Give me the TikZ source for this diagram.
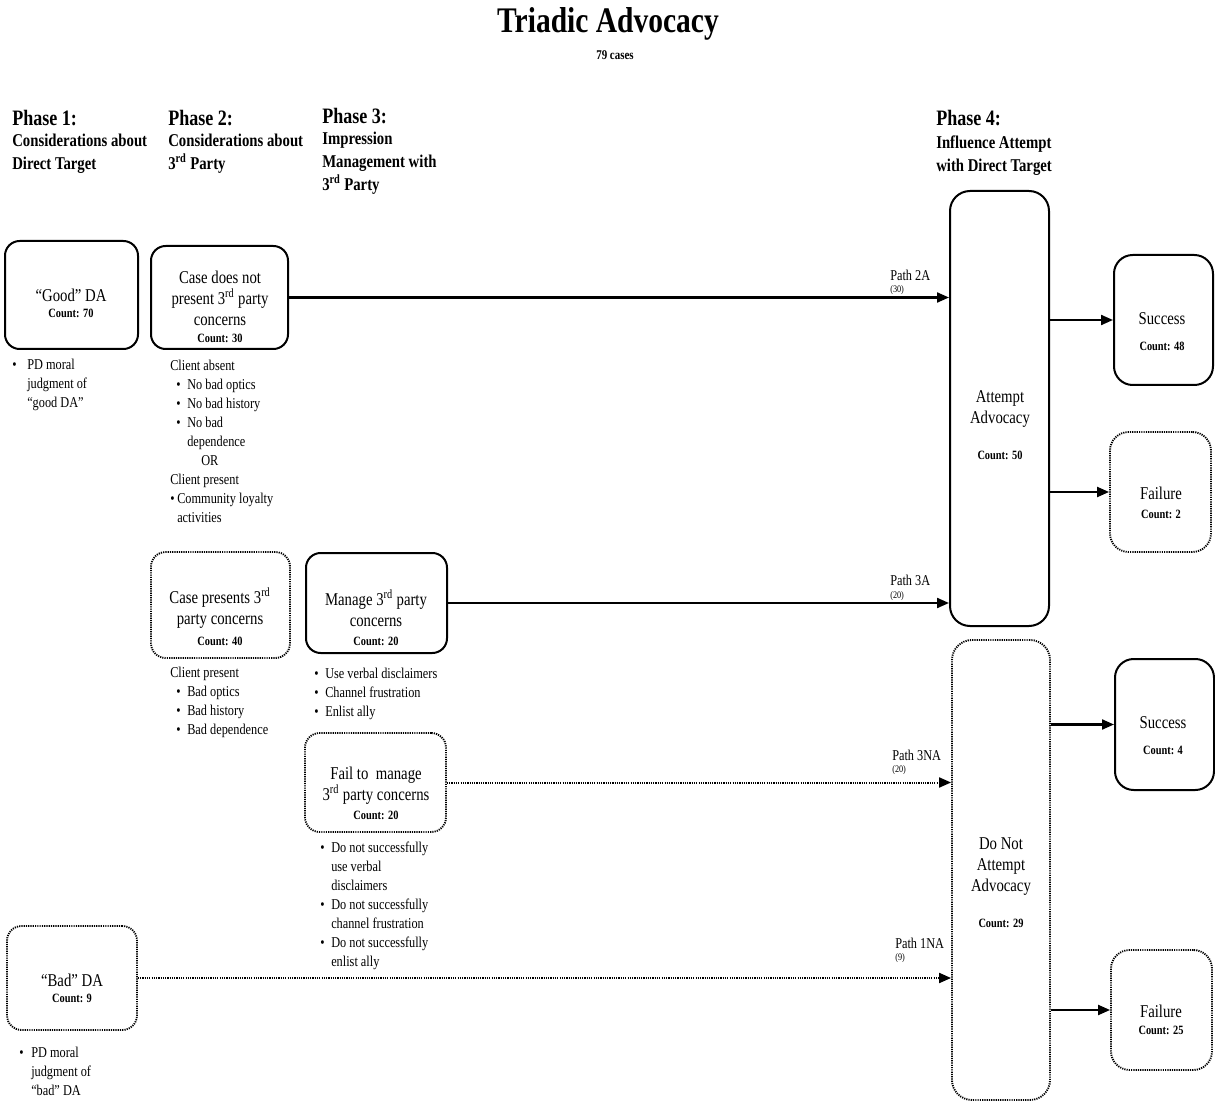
\documentclass[tikz,border=0pt]{standalone}
\usepackage{fontspec}
\setmainfont[FakeStretch=0.82]{Liberation Serif}
\usetikzlibrary{arrows.meta}
\newcommand\mybul[1]{\makebox[#1][l]{•}}
\begin{document}
\begin{tikzpicture}[x=0.75pt,y=-0.75pt,
 solidbox/.style={draw, line width=1.5pt, rounded corners=11pt, inner sep=0pt},
 dotbox/.style={draw, line width=1.4pt, dash pattern=on 0.9pt off 0.8pt, rounded corners=11pt, inner sep=0pt},
 main/.style={font=\fontsize{13.5}{15.75}\selectfont, align=center, inner sep=0pt},
 cnt/.style={font=\bfseries\fontsize{9.5}{10}\selectfont, inner sep=0pt},
 note/.style={font=\fontsize{11.25}{14.25}\selectfont, align=left, anchor=north west, inner sep=0pt},
 arr/.style={line width=1.6pt, -{Triangle[length=9pt,width=7.5pt]}},
 darr/.style={arr, line width=1.5pt, dash pattern=on 0.9pt off 0.8pt},
 ph/.style={font=\bfseries\fontsize{16.5}{18}\selectfont, anchor=west, inner sep=0pt},
 phs/.style={font=\bfseries\fontsize{13.5}{17.25}\selectfont, align=left, anchor=north west, inner sep=0pt},
 pl/.style={font=\fontsize{11.25}{12}\selectfont, anchor=west, inner sep=0pt},
 pn/.style={font=\fontsize{7.5}{8}\selectfont, anchor=west, inner sep=0pt}]
\useasboundingbox (0,0) rectangle (1215,1109);

% title
\node[font=\bfseries\fontsize{27}{30}\selectfont, inner sep=0pt] (title) at (608,24) {Triadic Advocacy};
\node[font=\bfseries\fontsize{10}{12}\selectfont, inner sep=0pt] (sub) at (615,55) {79 cases};

% phase headers
\node[ph] (p1) at (12,118) {Phase 1:};
\node[phs] (p1s) at (12,134) {Considerations about\\Direct Target};
\node[ph] (p2) at (168,118) {Phase 2:};
\node[phs] (p2s) at (168,134) {Considerations about\\3\textsuperscript{rd} Party};
\node[ph] (p3) at (322,116) {Phase 3:};
\node[phs] (p3s) at (322,132) {Impression\\Management with\\3\textsuperscript{rd} Party};
\node[ph] (p4) at (936,118) {Phase 4:};
\node[phs] (p4s) at (936,136) {Influence Attempt\\with Direct Target};

% boxes
\node[solidbox, minimum width=99.75pt, minimum height=81pt] (good) at (71.5,295) {};
\node[solidbox, minimum width=102.75pt, minimum height=77.25pt] (case1) at (219.5,297.5) {};
\node[dotbox, minimum width=104.25pt, minimum height=79.5pt] (case2) at (220.5,605) {};
\node[solidbox, minimum width=105.75pt, minimum height=75pt] (man) at (376.5,603) {};
\node[dotbox, minimum width=105.75pt, minimum height=74.25pt] (fail) at (375.5,782.5) {};
\node[dotbox, minimum width=97.5pt, minimum height=78pt] (bad) at (72,978) {};
\node[solidbox, rounded corners=15pt, minimum width=74.25pt, minimum height=326.25pt] (att) at (999.5,408.5) {};
\node[dotbox, rounded corners=15pt, minimum width=73.5pt, minimum height=345pt] (dna) at (1001,870) {};
\node[solidbox, rounded corners=14pt, minimum width=74.25pt, minimum height=97.5pt] (s1) at (1163.5,320) {};
\node[dotbox, rounded corners=14pt, minimum width=75.75pt, minimum height=90pt] (f1) at (1160.5,492) {};
\node[solidbox, rounded corners=14pt, minimum width=74.25pt, minimum height=98.25pt] (s2) at (1164.5,724.5) {};
\node[dotbox, rounded corners=14pt, minimum width=75.75pt, minimum height=90pt] (f2) at (1161.5,1010) {};

% box texts
\node[main] (goodT) at (71,295) {“Good” DA};
\node[cnt] (goodC) at (71,313) {Count: 70};
\node[main] (case1T) at (220,298) {Case does not\\present 3\textsuperscript{rd} party\\concerns};
\node[cnt] (case1C) at (220,338) {Count: 30};
\node[main] (case2T) at (220,608) {Case presents 3\textsuperscript{rd}\\party concerns};
\node[cnt] (case2C) at (220,641) {Count: 40};
\node[main] (manT) at (376,608) {Manage 3\textsuperscript{rd} party\\concerns};
\node[cnt] (manC) at (376,641) {Count: 20};
\node[main] (failT) at (376,786) {Fail to~ manage\\3\textsuperscript{rd} party concerns};
\node[cnt] (failC) at (376,815) {Count: 20};
\node[main] (badT) at (72,980) {“Bad” DA};
\node[cnt] (badC) at (72,998) {Count: 9};
\node[main] (attT) at (1000,409) {Attempt\\Advocacy};
\node[cnt] (attC) at (1000,455) {Count: 50};
\node[main] (dnaT) at (1001,867) {Do Not\\Attempt\\Advocacy};
\node[cnt] (dnaC) at (1001,923) {Count: 29};
\node[main] (s1T) at (1162,319) {Success};
\node[cnt] (s1C) at (1162,346) {Count: 48};
\node[main] (f1T) at (1161,493) {Failure};
\node[cnt] (f1C) at (1161,514) {Count: 2};
\node[main] (s2T) at (1163,723) {Success};
\node[cnt] (s2C) at (1163,750) {Count: 4};
\node[main] (f2T) at (1161,1011) {Failure};
\node[cnt] (f2C) at (1161,1030) {Count: 25};

% notes
\node[note] (goodN) at (12,359) {\mybul{11.25pt}PD moral\\\hspace*{11.25pt}judgment of\\\hspace*{11.25pt}“good DA”};
\node[note] (case1N) at (170,360) {Client absent\\
\hspace*{4.5pt}\mybul{8.25pt}No bad optics\\
\hspace*{4.5pt}\mybul{8.25pt}No bad history\\
\hspace*{4.5pt}\mybul{8.25pt}No bad\\
\hspace*{12.75pt}dependence\\
\hspace*{23.25pt}OR\\
Client present\\
\mybul{5.25pt}Community loyalty\\
\hspace*{5.25pt}activities};
\node[note] (case2N) at (170,667) {Client present\\
\hspace*{4.5pt}\mybul{8.25pt}Bad optics\\
\hspace*{4.5pt}\mybul{8.25pt}Bad history\\
\hspace*{4.5pt}\mybul{8.25pt}Bad dependence};
\node[note] (manN) at (314,668) {\mybul{8.25pt}Use verbal disclaimers\\
\mybul{8.25pt}Channel frustration\\
\mybul{8.25pt}Enlist ally};
\node[note] (failN) at (320,842) {\mybul{8.25pt}Do not successfully\\
\hspace*{8.25pt}use verbal\\
\hspace*{8.25pt}disclaimers\\
\mybul{8.25pt}Do not successfully\\
\hspace*{8.25pt}channel frustration\\
\mybul{8.25pt}Do not successfully\\
\hspace*{8.25pt}enlist ally};
\node[note] (badN) at (19,1047) {\mybul{9pt}PD moral\\\hspace*{9pt}judgment of\\\hspace*{9pt}“bad” DA};

% path labels
\node[pl] (l2a) at (890,275) {Path 2A};
\node[pn] (n2a) at (890,290) {(30)};
\node[pl] (l3a) at (890,580) {Path 3A};
\node[pn] (n3a) at (890,596) {(20)};
\node[pl] (l3na) at (892,755) {Path 3NA};
\node[pn] (n3na) at (892,770) {(20)};
\node[pl] (l1na) at (895,943) {Path 1NA};
\node[pn] (n1na) at (895,958) {(9)};

% connectors
\draw[arr] (case1.east) -- (case1.east -| att.west);
\draw[arr] (man.east) -- (man.east -| att.west);
\draw[darr] (fail.east) -- (fail.east -| dna.west);
\draw[darr] (bad.east) -- (bad.east -| dna.west);
\draw[arr] (s1.west -| att.east) -- (s1.west);
\draw[arr] (f1.west -| att.east) -- (f1.west);
\draw[arr] (s2.west -| dna.east) -- (s2.west);
\draw[arr] (f2.west -| dna.east) -- (f2.west);
\end{tikzpicture}
\end{document}
